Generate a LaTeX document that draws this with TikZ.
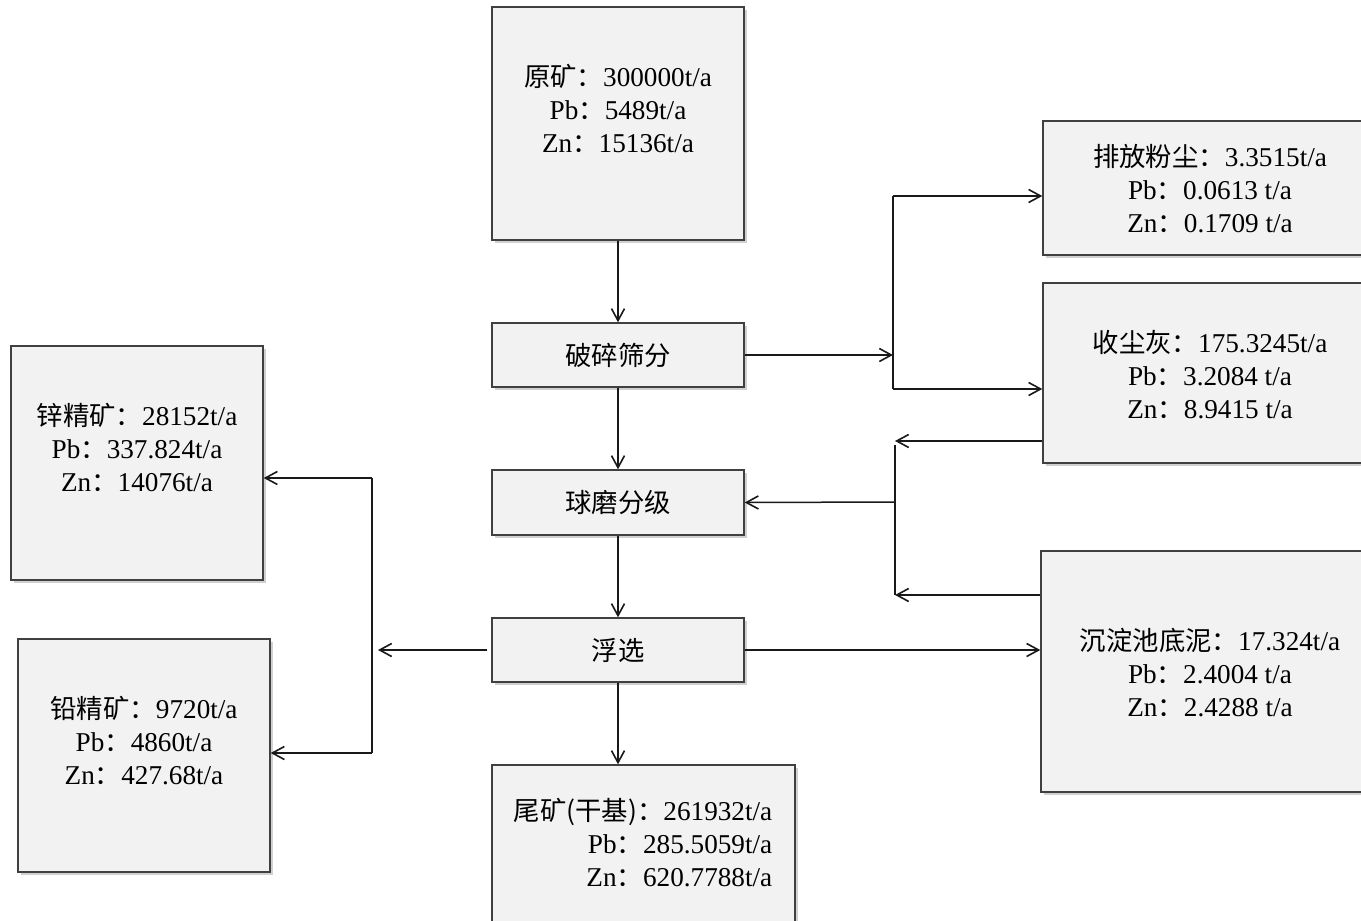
\documentclass[tikz,border=0pt]{standalone}
\usepackage{fontspec}
\setmainfont{Liberation Serif}
\newfontfamily\cjk{Noto Sans CJK SC}[Scale=0.97]
\newcommand\zh[1]{{\cjk #1}}
\usetikzlibrary{arrows.meta,fit,shadows}
\begin{document}
\begin{tikzpicture}[x=0.5pt,y=-0.5pt,
  box/.style={draw=black!75,line width=0.7pt,fill=black!5,inner sep=0pt,
    drop shadow={shadow xshift=1.5pt,shadow yshift=-1.5pt,opacity=0.3,fill=black!60}},
  txt/.style={align=center,font=\fontsize{13.6}{16.5}\selectfont,inner sep=0pt},
  ln/.style={line width=0.75pt,draw=black!90},
  arr/.style={ln,-{Straight Barb[length=6pt,width=6.5pt,line width=0.8pt]}}]
\useasboundingbox[fill=white] (0,0) rectangle (1361,921);
% boxes
\node[box,fit={(492,7) (744,240)}] (ore) {};
\node[txt] (oret) at (618,108) {\zh{原矿：}300000t/a\\Pb\zh{：}5489t/a\\Zn\zh{：}15136t/a};
\node[box,fit={(492,323) (744,387)}] (crush) {};
\node[txt] (crusht) at (618,355) {\zh{破碎筛分}};
\node[box,fit={(492,470) (744,535)}] (mill) {};
\node[txt] (millt) at (618,502) {\zh{球磨分级}};
\node[box,fit={(492,618) (744,682)}] (float) {};
\node[txt] (floatt) at (618,650) {\zh{浮选}};
\node[box,fit={(492,765) (795,935)}] (tail) {};
\node[txt,align=right] (tailt) at (643,843) {\zh{尾矿(干基)：}261932t/a\\Pb\zh{：}285.5059t/a\\Zn\zh{：}620.7788t/a};
\node[box,fit={(1043,121) (1372,255)}] (dust) {};
\node[txt] (dustt) at (1210,189) {\zh{排放粉尘：}3.3515t/a\\Pb\zh{：}0.0613 t/a\\Zn\zh{：}0.1709 t/a};
\node[box,fit={(1043,283) (1372,463)}] (ash) {};
\node[txt] (asht) at (1210,375) {\zh{收尘灰：}175.3245t/a\\Pb\zh{：}3.2084 t/a\\Zn\zh{：}8.9415 t/a};
\node[box,fit={(1041,551) (1372,792)}] (sludge) {};
\node[txt] (sludget) at (1210,673) {\zh{沉淀池底泥：}17.324t/a\\Pb\zh{：}2.4004 t/a\\Zn\zh{：}2.4288 t/a};
\node[box,fit={(11,346) (263,580)}] (zinc) {};
\node[txt] (zinct) at (137,447) {\zh{锌精矿：}28152t/a\\Pb\zh{：}337.824t/a\\Zn\zh{：}14076t/a};
\node[box,fit={(18,639) (270,872)}] (lead) {};
\node[txt] (leadt) at (144,741) {\zh{铅精矿：}9720t/a\\Pb\zh{：}4860t/a\\Zn\zh{：}427.68t/a};
% main chain
\draw[arr] (ore.south) -- (crush.north);
\draw[arr] (crush.south) -- (mill.north);
\draw[arr] (mill.south) -- (float.north);
\draw[arr] (float.south) -- (float.south |- tail.north);
% crushing outputs
\coordinate (j1) at (893,355);
\coordinate (j1t) at (893,196);
\coordinate (j1b) at (893,389);
\draw[arr] (crush.east) -- (j1);
\draw[ln] (j1t) -- (j1b);
\draw[arr] (j1t) -- (j1t -| dust.west);
\draw[arr] (j1b) -- (j1b -| ash.west);
% returns to ball mill
\coordinate (j2t) at (895,441);
\coordinate (j2tl) at (895,445);
\coordinate (j2b) at (895,595);
\coordinate (j2) at (895,502);
\draw[arr] (ash.west |- j2t) -- (j2t);
\draw[arr] (sludge.west |- j2b) -- (j2b);
\draw[ln] (j2tl) -- (j2b);
\draw[arr] (j2) -- (mill.east);
% flotation outputs
\draw[arr] (float.east) -- (float.east -| sludge.west);
\coordinate (j3a) at (378,650);
\coordinate (j3t) at (372,478);
\coordinate (j3b) at (372,753);
\draw[arr] (float.west) ++(-4,0) -- (j3a);
\draw[ln] (j3t) -- (j3b);
\draw[arr] (j3t) -- (j3t -| zinc.east);
\draw[arr] (j3b) -- (j3b -| lead.east);
\end{tikzpicture}
\end{document}
